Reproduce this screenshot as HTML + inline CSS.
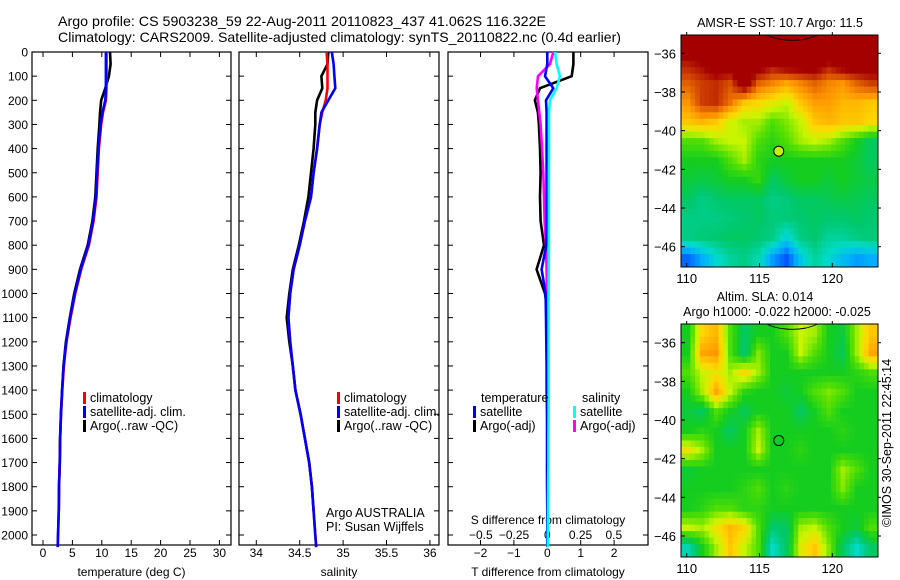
<!DOCTYPE html>
<html><head><meta charset="utf-8"><style>
html,body{margin:0;padding:0;background:#fff}
svg{display:block;font-family:"Liberation Sans",sans-serif}
</style></head><body>
<svg id="c" width="900" height="580" viewBox="0 0 900 580" xmlns="http://www.w3.org/2000/svg">
<rect width="900" height="580" fill="#fff"/>
<text x="58" y="26" font-size="14" textLength="488" lengthAdjust="spacingAndGlyphs">Argo profile: CS 5903238_59 22-Aug-2011 20110823_437 41.062S 116.322E</text>
<text x="58" y="42" font-size="14" textLength="563" lengthAdjust="spacingAndGlyphs">Climatology: CARS2009. Satellite-adjusted climatology: synTS_20110822.nc (0.4d earlier)</text>
<g id="g"></g>
</svg>
<script>
// ---- profile data ----
const depths = [0,50,100,150,200,250,300,400,500,600,700,800,900,1000,1100,1200,1300,1400,1500,1600,1700,1800,1900,2000,2050];
const tempClim = [10.8,10.8,10.8,10.8,10.7,10.2,9.9,9.5,9.3,9.1,8.6,7.8,6.5,5.5,4.7,4.0,3.55,3.28,3.08,2.92,2.86,2.74,2.68,2.56,2.5];
const tempSat  = [10.7,10.7,10.7,10.7,10.6,10.1,9.8,9.4,9.2,9.0,8.5,7.7,6.4,5.4,4.6,3.95,3.5,3.25,3.05,2.9,2.85,2.72,2.67,2.55,2.5];
const tempArgo = [11.4,11.5,11.2,10.6,9.9,9.7,9.6,9.3,9.1,8.9,8.4,7.6,6.3,5.3,4.55,3.9,3.48,3.24,3.05,2.9,2.84,2.72,2.68];
const salClim = [34.81,34.82,34.82,34.82,34.80,34.76,34.73,34.70,34.66,34.63,34.56,34.50,34.43,34.39,34.37,34.39,34.42,34.45,34.51,34.56,34.61,34.64,34.66,34.68,34.69];
const salSat  = [34.87,34.89,34.90,34.91,34.83,34.75,34.73,34.70,34.66,34.63,34.56,34.50,34.43,34.39,34.37,34.39,34.42,34.45,34.51,34.56,34.61,34.64,34.66,34.68,34.69];
const salArgo = [34.83,34.82,34.75,34.76,34.70,34.68,34.68,34.66,34.63,34.60,34.55,34.49,34.42,34.38,34.35,34.38,34.42,34.45,34.51,34.56,34.61,34.64,34.66];
const tDiffSat  = [0.0,0.0,-0.07,0.18,-0.04,-0.02,-0.02,-0.02,-0.02,-0.02,-0.02,-0.03,-0.17,-0.05,-0.04,-0.03,-0.02,-0.02,-0.01,-0.01,-0.01,-0.01,0,0,0];
const tDiffArgo = [0.78,0.78,0.73,-0.22,-0.37,-0.28,-0.25,-0.22,-0.2,-0.22,-0.2,-0.1,-0.32,-0.07,0.03,0.01,0.0,0.0,0.0,0.0,0.0,0.0,0.0];
const sDiffSat  = [0.058,0.07,0.095,0.07,0.02,0.013,0.013,0.013,0.012,0.012,0.012,0.012,0.011,0.01,0.01,0.01,0.01,0.01,0.01,0.008,0.008,0.006,0.005,0.004,0.004];
const sDiffArgo = [0.045,0.02,-0.07,-0.08,-0.07,-0.06,-0.05,-0.04,-0.03,-0.025,-0.02,-0.01,-0.005,-0.003,0,0,0,0,0,0,0,0,0];
const depthTicks = [0,100,200,300,400,500,600,700,800,900,1000,1100,1200,1300,1400,1500,1600,1700,1800,1900,2000];
const tempTicks = [0,5,10,15,20,25,30];
const salTicks = [34,34.5,35,35.5,36];
const tDiffTicks = [-2,-1,0,1,2];
const sDiffTicks = [-0.5,-0.25,0,0.25,0.5];
const sDiffLabels = ["\u22120.5","\u22120.25","0","0.25","0.5"];
// ---- map data (12 rows lat -35.5..-46.5, 14 cols lon 110..123), colour index 0..1 ----
const sstGrid = [
[1,1,1,1,1,1,1,1,1,1,1,1,1,1],
[0.9,0.93,1,1,1,1,0.93,1,1,1,0.92,1,1,1],
[0.82,0.86,0.88,0.84,1,0.82,0.78,0.74,0.78,0.82,0.78,0.76,0.82,0.86],
[0.76,0.86,0.88,0.8,0.7,0.68,0.65,0.62,0.7,0.75,0.75,0.72,0.72,0.7],
[0.7,0.72,0.7,0.63,0.6,0.6,0.55,0.58,0.62,0.7,0.72,0.7,0.7,0.68],
[0.55,0.55,0.6,0.62,0.62,0.55,0.52,0.55,0.6,0.62,0.6,0.55,0.5,0.45],
[0.5,0.5,0.5,0.55,0.6,0.52,0.5,0.5,0.5,0.5,0.5,0.5,0.48,0.45],
[0.48,0.47,0.48,0.5,0.5,0.53,0.45,0.48,0.5,0.5,0.48,0.5,0.48,0.47],
[0.45,0.42,0.44,0.45,0.45,0.45,0.42,0.43,0.45,0.45,0.46,0.47,0.46,0.45],
[0.42,0.42,0.42,0.43,0.44,0.45,0.43,0.43,0.44,0.45,0.44,0.44,0.45,0.44],
[0.42,0.43,0.44,0.45,0.45,0.44,0.42,0.34,0.42,0.44,0.4,0.4,0.42,0.43],
[0.2,0.28,0.35,0.4,0.42,0.38,0.26,0.18,0.32,0.4,0.35,0.3,0.26,0.28]];
const slaGrid = [
[0.5,0.68,0.72,0.55,0.45,0.5,0.5,0.55,0.62,0.6,0.5,0.48,0.6,0.7],
[0.5,0.74,0.76,0.55,0.44,0.58,0.5,0.5,0.62,0.55,0.5,0.46,0.6,0.74],
[0.55,0.62,0.66,0.6,0.68,0.6,0.5,0.5,0.5,0.5,0.5,0.5,0.52,0.55],
[0.5,0.6,0.74,0.62,0.52,0.5,0.5,0.48,0.5,0.55,0.58,0.55,0.5,0.5],
[0.48,0.45,0.55,0.5,0.46,0.5,0.5,0.5,0.45,0.5,0.55,0.5,0.5,0.5],
[0.5,0.52,0.5,0.45,0.5,0.6,0.5,0.5,0.5,0.5,0.5,0.52,0.5,0.5],
[0.66,0.6,0.5,0.5,0.5,0.62,0.5,0.5,0.52,0.5,0.5,0.5,0.5,0.5],
[0.48,0.5,0.5,0.5,0.5,0.5,0.5,0.5,0.5,0.5,0.5,0.6,0.55,0.5],
[0.5,0.5,0.5,0.5,0.52,0.55,0.5,0.52,0.5,0.5,0.5,0.58,0.5,0.5],
[0.5,0.52,0.55,0.55,0.52,0.52,0.5,0.5,0.5,0.5,0.5,0.5,0.5,0.5],
[0.62,0.6,0.66,0.72,0.68,0.55,0.44,0.45,0.6,0.62,0.55,0.5,0.48,0.55],
[0.38,0.5,0.6,0.7,0.62,0.55,0.36,0.45,0.64,0.7,0.58,0.45,0.36,0.45]];
const lonTicks = [110,115,120];
const latTicks = [-36,-38,-40,-42,-44,-46];
const floatLon = 116.322, floatLat = -41.062;

const NS='http://www.w3.org/2000/svg';
const G=document.getElementById('g');
function mk(tag,attrs,parent){const e=document.createElementNS(NS,tag);for(const k in attrs)e.setAttribute(k,attrs[k]);(parent||G).appendChild(e);return e;}
function txt(x,y,s,size,anchor,name){const t=mk('text',{x:x,y:y,'font-size':size||12,'text-anchor':anchor||'start'});t.textContent=s;


return t;}

const yTop=52, pxPerM=0.2415, yBot=545;
const yD=d=>yTop+d*pxPerM;

const panels=[
 {name:'temperature-panel',x0:32,x1:231,fx:v=>43+v*5.88,ticks:tempTicks,labels:tempTicks.map(String),xlabel:'temperature (deg C)'},
 {name:'salinity-panel',x0:239,x1:439,fx:v=>256.3+(v-34)*86.8,ticks:salTicks,labels:salTicks.map(String),xlabel:'salinity'},
 {name:'difference-panel',x0:448,x1:648,fx:v=>547.3+v*33.4,ticks:tDiffTicks,labels:tDiffTicks.map(v=>v<0?'\u2212'+(-v):String(v)),xlabel:'T difference from climatology'}
];
const fS=v=>547.3+v*133;

panels.forEach((p,i)=>{
 const g=mk('g',{});
 
 
 const fr=mk('rect',{x:p.x0,y:yTop,width:p.x1-p.x0,height:yBot-yTop,fill:'none',stroke:'#000','stroke-width':1.2},g);
 
 
 p.ticks.forEach((t,j)=>{const x=p.fx(t);
  mk('line',{x1:x,x2:x,y1:yBot,y2:yBot-5,stroke:'#000'},g);
  mk('line',{x1:x,x2:x,y1:yTop,y2:yTop+5,stroke:'#000'},g);
  txt(x,557,p.labels[j],12,'middle','x-tick-label');});
 depthTicks.forEach(d=>{const y=yD(d);
  mk('line',{x1:p.x0,x2:p.x0+5,y1:y,y2:y,stroke:'#000'},g);
  mk('line',{x1:p.x1,x2:p.x1-5,y1:y,y2:y,stroke:'#000'},g);});
 txt((p.x0+p.x1)/2,576,p.xlabel,12,'middle','x-axis-title');
});
depthTicks.forEach(d=>txt(28,yD(d)+4.5,String(d),12,'end','y-tick-label'));
sDiffTicks.forEach((t,j)=>txt(fS(t),539,sDiffLabels[j],12,'middle','s-diff-tick-label'));
txt(548,524,'S difference from climatology',12,'middle','s-diff-axis-title');

function line(vals,fx,color,name,w){
 const pts=vals.map((v,i)=>fx(v).toFixed(1)+','+yD(depths[i]).toFixed(1)).join(' ');
 const l=mk('polyline',{points:pts,fill:'none',stroke:color,'stroke-width':w||2.6,'stroke-linejoin':'round'});
 
 
}
const fT=panels[0].fx, fSal=panels[1].fx, fTd=panels[2].fx;
line(tempArgo,fT,'#000','temp-argo-line');
line(tempClim,fT,'#f00','temp-climatology-line');
line(tempSat,fT,'#00f','temp-satellite-line');
line(salArgo,fSal,'#000','sal-argo-line');
line(salClim,fSal,'#f00','sal-climatology-line');
line(salSat,fSal,'#00f','sal-satellite-line');
line(tDiffArgo,fTd,'#000','tdiff-argo-line');
line(sDiffArgo,fS,'#f0f','sdiff-argo-line');
line(tDiffSat,fTd,'#00f','tdiff-satellite-line');
line(sDiffSat,fS,'#0ff','sdiff-satellite-line');

function legend(x,y,color,label,name){
 const r=mk('rect',{x:x,y:y-10,width:3,height:12,fill:color});
 
 
 txt(x+7,y,label,12.5,'start',name+'-label');
}
[[83,'#f00','climatology'],[83,'#00f','satellite-adj. clim.'],[83,'#000','Argo(..raw -QC)']].forEach((e,i)=>legend(e[0],402+i*14,e[1],e[2],'temp-legend'));
[[337,'#f00','climatology'],[337,'#00f','satellite-adj. clim.'],[337,'#000','Argo(..raw -QC)']].forEach((e,i)=>legend(e[0],402+i*14,e[1],e[2],'sal-legend'));
txt(481,402,'temperature',12.5,'start','diff-legend-temperature-header');
txt(582,402,'salinity',12.5,'start','diff-legend-salinity-header');
legend(473,416,'#00f','satellite','diff-legend-t-satellite');
legend(473,430,'#000','Argo(-adj)','diff-legend-t-argo');
legend(573,416,'#0ff','satellite','diff-legend-s-satellite');
legend(573,430,'#f0f','Argo(-adj)','diff-legend-s-argo');
txt(326,517,'Argo AUSTRALIA',12.5,'start','credit-argo-australia');
txt(326,531,'PI: Susan Wijffels',12.5,'start','credit-pi');

const stops=[[0,[0,0,140]],[0.15,[0,60,255]],[0.28,[0,176,255]],[0.36,[0,220,200]],[0.44,[0,200,110]],[0.5,[20,205,30]],[0.56,[90,225,0]],[0.62,[200,245,0]],[0.68,[255,215,0]],[0.76,[255,150,0]],[0.85,[210,70,0]],[0.93,[165,0,0]],[1,[165,0,0]]];
function cmap(v){for(let i=1;i<stops.length;i++){if(v<=stops[i][0]){const a=stops[i-1],b=stops[i],t=(v-a[0])/(b[0]-a[0]);
 return 'rgb('+a[1].map((c,k)=>Math.round(c+(b[1][k]-c)*t)).join(',')+')';}}return 'rgb(165,0,0)';}
function sample(grid,fr,fc){
 const nr=grid.length,nc=grid[0].length;
 fr=Math.max(0,Math.min(nr-1,fr));fc=Math.max(0,Math.min(nc-1,fc));
 const r0=Math.floor(fr),c0=Math.floor(fc),r1=Math.min(nr-1,r0+1),c1=Math.min(nc-1,c0+1),tr=fr-r0,tc=fc-c0;
 return (grid[r0][c0]*(1-tc)+grid[r0][c1]*tc)*(1-tr)+(grid[r1][c0]*(1-tc)+grid[r1][c1]*tc)*tr;
}

function drawMap(grid,box,name,lat36,lat46,dotFill){
 const g=mk('g',{});
 
 
 const fx=lon=>686.7+(lon-110)*14.56;
 const fy=lat=>lat36+(-36-lat)*(lat46-lat36)/10;
 const nr=grid.length, nc=grid[0].length, sub=3;
 const cw=(box.x1-box.x0)/(nc*sub), ch=(box.y1-box.y0)/(nr*sub);
 for(let r=0;r<nr*sub;r++)for(let c=0;c<nc*sub;c++){
  const v=sample(grid,(r+0.5)/sub-0.5,(c+0.5)/sub-0.5);
  const cell=mk('rect',{x:(box.x0+c*cw).toFixed(2),y:(box.y0+r*ch).toFixed(2),width:(cw+0.5).toFixed(2),height:(ch+0.5).toFixed(2),fill:cmap(v)},g);
  
  
 }
 const cy=box.y0;
 const coast=mk('path',{d:`M${fx(115.5)} ${cy} Q${fx(116)} ${cy+4} ${fx(116.8)} ${cy+5} Q${fx(117.5)} ${cy+6} ${fx(118.2)} ${cy+4} Q${fx(118.7)} ${cy+2} ${fx(119)} ${cy}`,fill:'none',stroke:'#000','stroke-width':0.9},g);
 
 
 const fr=mk('rect',{x:box.x0,y:box.y0,width:box.x1-box.x0,height:box.y1-box.y0,fill:'none',stroke:'#000','stroke-width':1},g);
 
 
 lonTicks.forEach(l=>{const x=fx(l);mk('line',{x1:x,x2:x,y1:box.y1,y2:box.y1-4,stroke:'#000'},g);mk('line',{x1:x,x2:x,y1:box.y0,y2:box.y0-3,stroke:'#000'},g);
  txt(x,box.y1+16,String(l),13,'middle','map-lon-label');});
 latTicks.forEach(l=>{const y=fy(l);mk('line',{x1:box.x0,x2:box.x0+4,y1:y,y2:y,stroke:'#000'},g);mk('line',{x1:box.x1,x2:box.x1+3,y1:y,y2:y,stroke:'#000'},g);
  txt(box.x0-5,y+5,'\u2212'+(-l),13,'end','map-lat-label');});
 const dot=mk('circle',{cx:fx(floatLon),cy:fy(floatLat),r:5,fill:dotFill,stroke:'#000','stroke-width':1},g);
 
 
}
drawMap(sstGrid,{x0:681,x1:878,y0:35,y1:267},'sst-map',53.3,246.7,'#c8f000');
drawMap(slaGrid,{x0:681,x1:878,y0:324,y1:557},'sla-map',342.7,536,'none');
txt(780,27,'AMSR-E SST: 10.7 Argo: 11.5',12.5,'middle','sst-map-title');
txt(765,301,'Altim. SLA: 0.014',12.5,'middle','sla-map-title');
txt(777,316,'Argo h1000: -0.022 h2000: -0.025',12.5,'middle','sla-map-subtitle');
const st=txt(0,0,'\u00a9IMOS 30-Sep-2011 22:45:14',12.5,'middle','timestamp');
st.setAttribute('transform','translate(891,443) rotate(-90)');
</script>
</body></html>
